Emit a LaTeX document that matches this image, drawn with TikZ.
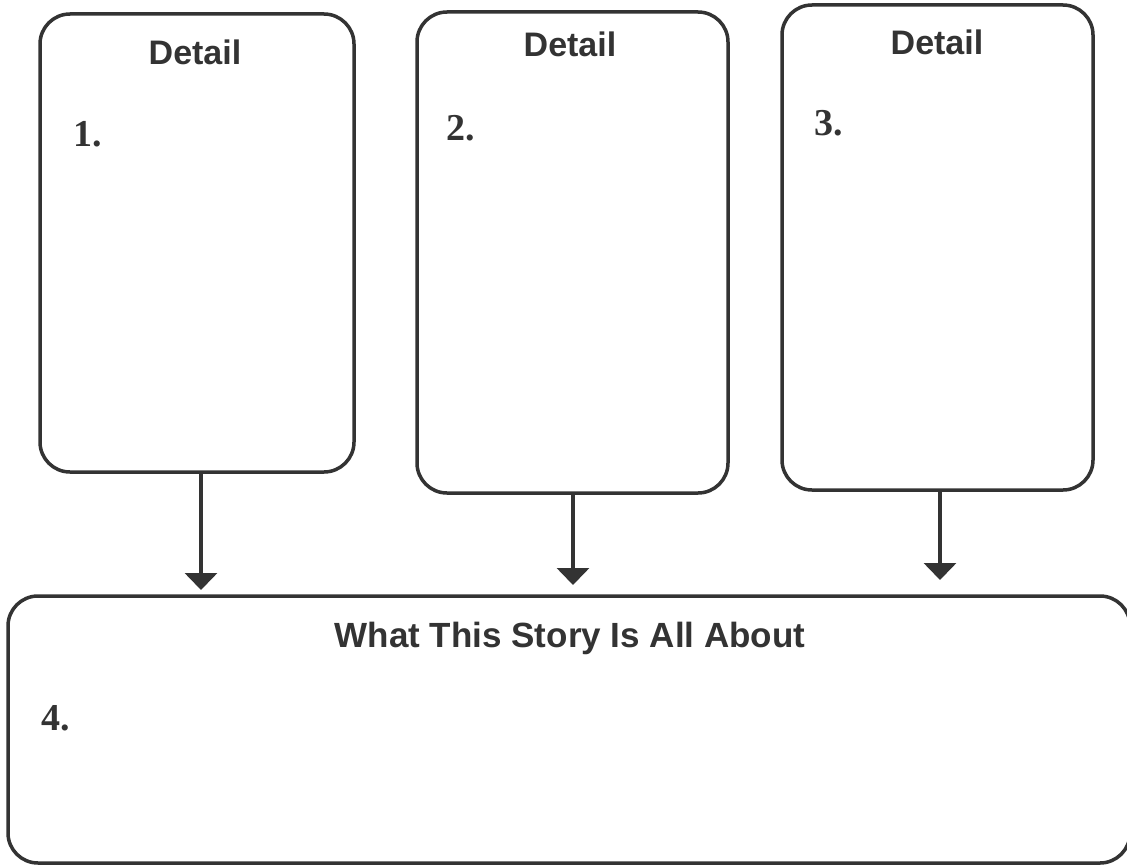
\documentclass[tikz,border=0pt]{standalone}
\usepackage{fontspec}
\setmainfont{Liberation Serif}
\setsansfont{Liberation Sans}
\usetikzlibrary{arrows.meta,positioning}

\definecolor{ink}{HTML}{333333}

\begin{document}
\begin{tikzpicture}[x=1pt, y=-1pt, line width=3.5pt, draw=ink,
        box/.style = {draw=ink, rounded corners=30pt, inner sep=0pt},
        head/.style = {text=ink, font=\sffamily\bfseries\fontsize{34}{38}\selectfont, anchor=base},
        num/.style = {text=ink, font=\rmfamily\bfseries\fontsize{38}{42}\selectfont, anchor=base west},
        flow/.style = {ink, -{Triangle[width=32pt,length=17pt]}}]
        \useasboundingbox (0,0) rectangle (1127,867);

        \node[box, minimum width=314pt, minimum height=458pt] (D1) at (197,243) {};
        \node[box, minimum width=311pt, minimum height=481pt] (D2) at (572.5,252.5) {};
        \node[box, minimum width=311pt, minimum height=485pt] (D3) at (937.5,247.5) {};
        \node[box, minimum width=1122pt, minimum height=267pt] (S) at (569,729.5) {};

        \node[head] (T1) at (195,64) {Detail};
        \node[head] (T2) at (570,57) {Detail};
        \node[head] (T3) at (937,55) {Detail};
        \node[head, font=\sffamily\bfseries\fontsize{35}{40}\selectfont] (TS) at (570,647) {What This Story Is All About};

        \node[num] (N1) at (68,146) {1.};
        \node[num] (N2) at (441,140) {2.};
        \node[num] (N3) at (809,135) {3.};
        \node[num] (N4) at (36,730) {4.};

        \coordinate (E1) at (201,590);
        \coordinate (E2) at (573,585);
        \coordinate (E3) at (940,580);

        \draw[flow] (D1.south -| E1) -- (E1);
        \draw[flow] (D2.south -| E2) -- (E2);
        \draw[flow] (D3.south -| E3) -- (E3);
    \end{tikzpicture}
\end{document}
